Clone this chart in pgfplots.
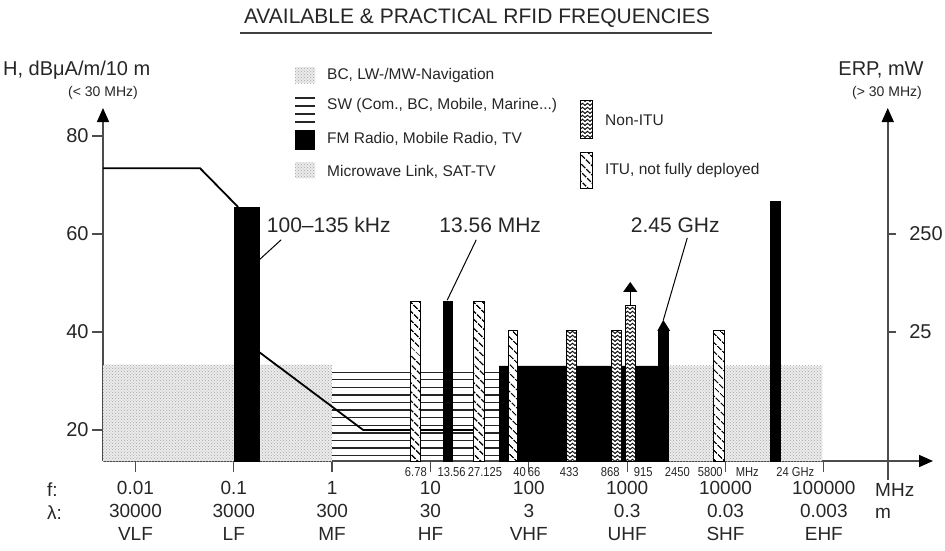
\documentclass[border=0pt]{standalone}
\usepackage{fontspec}
\setmainfont{Liberation Sans}
\newfontfamily\narrowfont{Liberation Sans}[FakeStretch=0.86]
\usepackage{pgfplots}
\pgfplotsset{compat=1.18}
\usetikzlibrary{patterns,patterns.meta,arrows.meta}

% zigzag fill for the non-ITU bands
\pgfdeclarepatternformonly{nonitu}{\pgfqpoint{-1pt}{-1pt}}{\pgfqpoint{6pt}{5pt}}{\pgfqpoint{5pt}{4pt}}{%
  \pgfsetlinewidth{0.9pt}%
  \pgfpathmoveto{\pgfqpoint{0pt}{0.5pt}}%
  \pgfpathlineto{\pgfqpoint{2.5pt}{2.8pt}}%
  \pgfpathlineto{\pgfqpoint{5pt}{0.5pt}}%
  \pgfusepath{stroke}}

\tikzset{
  dotty/.style={draw=none, fill=gray!16, postaction={pattern=crosshatch dots, pattern color=gray!70}},
  itu/.style={draw=black, line width=0.9pt, fill=white, postaction={pattern={Lines[angle=-45,distance=6.4pt,line width=1.4pt]}}},
  nonitu/.style={draw=black, line width=0.9pt, fill=white, postaction={pattern=nonitu}},
  solid bar/.style={draw=black, fill=black},
  small lab/.style={font=\narrowfont\fontsize{13}{15}\selectfont, text=black!85, inner sep=0pt},
}

\begin{document}
\begin{tikzpicture}
\useasboundingbox (-103pt,-89pt) rectangle (842pt,461pt);
\begin{axis}[
  scale only axis,
  width=830pt, height=353pt,
  xmode=log, log basis x=10,
  xmin=0.004677, xmax=1288250,
  ymin=13.67, ymax=85.7,
  clip=false,
  axis line style={draw=none},
  xtick={0.01,0.1,1,10,100,1000,10000,100000},
  xticklabels={{0.01\\30000\\VLF},{0.1\\3000\\LF},{1\\300\\MF},{10\\30\\HF},
    {100\\3\\VHF},{1000\\0.3\\UHF},{10000\\0.03\\SHF},{100000\\0.003\\EHF}},
  xticklabel style={align=center, font=\fontsize{19}{23}\selectfont, text=black!85, yshift=-6pt},
  ytick={20,40,60,80},
  yticklabel style={font=\fontsize{20}{24}\selectfont, text=black!85},
  /pgf/number format/assume math mode=true,
  tick align=outside, xtick pos=left, ytick pos=left,
  major tick length=11pt,
  tick style={gray!60!black, line width=1.3pt},
  minor tick style={draw=none},
]

% axis lines
\draw[gray!60!black, line width=1.6pt, -{Triangle[length=14pt,width=12pt,color=black]}]
  (rel axis cs:0,0) -- (rel axis cs:1,0);
\draw[gray!60!black, line width=1.6pt, -{Triangle[length=14pt,width=12pt,color=black]}]
  (rel axis cs:0,0) -- (rel axis cs:0,1);
\draw[gray!60!black, line width=1.6pt, -{Triangle[length=14pt,width=12pt,color=black]}]
  (axis cs:446684,9.8) -- (axis cs:446684,85.7);
\draw[gray!60!black, line width=1.3pt] (axis cs:446684,60) -- ++(8pt,0pt);
\draw[gray!60!black, line width=1.3pt] (axis cs:446684,40) -- ++(8pt,0pt);
\node[anchor=west, font=\fontsize{20}{24}\selectfont, text=black!85] at ([xshift=18pt]axis cs:446684,60) {250};
\node[anchor=west, font=\fontsize{20}{24}\selectfont, text=black!85] at ([xshift=18pt]axis cs:446684,40) {25};

% BC, LW-/MW-Navigation
\addplot[dotty] coordinates {(0.00468,13.67) (0.00468,33.3) (1,33.3) (1,13.67)} -- cycle;
% Microwave link, SAT-TV
\addplot[dotty] coordinates {(2619,13.67) (2619,33.1) (96600,33.1) (96600,13.67)} -- cycle;

% SW lines
\addplot[black!85, line width=1.3pt, unbounded coords=jump] table {
x y
1 31.8
50 31.8
nan nan
1 30.25
50 30.25
nan nan
1 28.7
50 28.7
nan nan
1 27.15
50 27.15
nan nan
1 25.6
50 25.6
nan nan
1 24.05
50 24.05
nan nan
1 22.5
50 22.5
nan nan
1 20.95
50 20.95
nan nan
1 19.4
50 19.4
nan nan
1 17.85
50 17.85
nan nan
1 16.3
50 16.3
nan nan
1 14.75
50 14.75
};

% H-field limit
\addplot[black, line width=1.8pt] coordinates {(0.00468,73.4) (0.0454,73.4) (0.1106,65.5)};
\addplot[black, line width=1.8pt] coordinates {(0.181,35.9) (2.07,20) (27.2,20)};

% FM radio, mobile radio, TV
\addplot[solid bar] coordinates {(50,13.67) (50,33.1) (2072,33.1) (2072,40.4) (2619,40.4) (2619,13.67)} -- cycle;
\addplot[fill=black, draw=none] coordinates {(2024,40.2) (2330,42.45) (2743,40.2)} -- cycle;
\addplot[solid bar] coordinates {(0.1007,13.67) (0.1007,65.5) (0.181,65.5) (0.181,13.67)} -- cycle;
\addplot[solid bar] coordinates {(13.5,13.67) (13.5,46.3) (16.6,46.3) (16.6,13.67)} -- cycle;
\addplot[solid bar] coordinates {(28560,13.67) (28560,66.7) (36100,66.7) (36100,13.67)} -- cycle;

% ITU, not fully deployed
\addplot[itu] coordinates {(6.21,13.67) (6.21,46.3) (7.86,46.3) (7.86,13.67)} -- cycle;
\addplot[itu] coordinates {(27.2,13.67) (27.2,46.3) (35.2,46.3) (35.2,13.67)} -- cycle;
\addplot[itu] coordinates {(61.7,13.67) (61.7,40.4) (76.2,40.4) (76.2,13.67)} -- cycle;
\addplot[itu] coordinates {(7510,13.67) (7510,40.4) (9680,40.4) (9680,13.67)} -- cycle;

% Non-ITU
\addplot[nonitu] coordinates {(240,13.67) (240,40.4) (303,40.4) (303,13.67)} -- cycle;
\addplot[nonitu] coordinates {(689,13.67) (689,40.4) (871,40.4) (871,13.67)} -- cycle;
\addplot[nonitu] coordinates {(957,13.67) (957,45.5) (1209,45.5) (1209,13.67)} -- cycle;
\addplot[black, line width=1pt] coordinates {(1075,45.5) (1075,48.2)};
\addplot[fill=black, draw=none] coordinates {(912,48.2) (1075,50.2) (1267,48.2)} -- cycle;

% callouts
\addplot[black, line width=1pt] coordinates {(0.181,54.7) (0.303,58.8)};
\addplot[black, line width=1pt] coordinates {(14.8,46.5) (29.2,58.8)};
\addplot[black, line width=1pt] coordinates {(2330,42.4) (4087,59.2)};
\node[anchor=west, font=\fontsize{21}{25}\selectfont, text=black!85] at (axis cs:0.2,61.8) {100–135 kHz};
\node[font=\fontsize{21}{25}\selectfont, text=black!85] at (axis cs:40.5,61.8) {13.56 MHz};
\node[font=\fontsize{21}{25}\selectfont, text=black!85] at (axis cs:3085,61.8) {2.45 GHz};

% small frequency labels under the axis
\node[small lab] at (axis cs:7.1,11.43) {6.78};
\node[small lab] at (axis cs:16.4,11.43) {13.56};
\node[small lab] at (axis cs:35.8,11.43) {27.125};
\node[small lab] at (axis cs:80.5,11.43) {40};
\node[small lab] at (axis cs:113,11.43) {66};
\node[small lab] at (axis cs:258,11.43) {433};
\node[small lab] at (axis cs:673,11.43) {868};
\node[small lab] at (axis cs:1459,11.43) {915};
\node[small lab] at (axis cs:3236,11.43) {2450};
\node[small lab] at (axis cs:7000,11.43) {5800};
\node[small lab] at (axis cs:16670,11.43) {MHz};
\node[small lab] at (axis cs:51300,11.43) {24 GHz};

\end{axis}

% title
\node[font=\fontsize{21}{25}\selectfont, text=black!85] at (374pt,443pt) {AVAILABLE \& PRACTICAL RFID FREQUENCIES};
\draw[black!75, line width=1.5pt] (137pt,428pt) -- (609pt,428pt);

% axis titles
\node[anchor=west, font=\fontsize{20}{24}\selectfont, text=black!85, inner sep=0pt] at (-100pt,391pt) {H, dBμA/m/10 m};
\node[font=\fontsize{14}{16}\selectfont, text=black!85] at (0pt,368pt) {(< 30 MHz)};
\node[font=\fontsize{20}{24}\selectfont, text=black!85] at (778pt,391pt) {ERP, mW};
\node[font=\fontsize{14}{16}\selectfont, text=black!85] at (784pt,368pt) {(> 30 MHz)};

% row captions
\node[anchor=west, font=\fontsize{19}{23}\selectfont, text=black!85, inner sep=0pt] at (-56pt,-29pt) {f:};
\node[anchor=west, font=\fontsize{19}{23}\selectfont, text=black!85, inner sep=0pt] at (-56pt,-52pt) {λ:};
\node[anchor=west, font=\fontsize{19}{23}\selectfont, text=black!85, inner sep=0pt] at (772pt,-29pt) {MHz};
\node[anchor=west, font=\fontsize{19}{23}\selectfont, text=black!85, inner sep=0pt] at (772pt,-52pt) {m};

% legend
\path[dotty] (192pt,378pt) rectangle (212pt,394pt);
\foreach \ly in {363,355,347,339} \draw[black!85, line width=1.3pt] (192pt,\ly pt) -- (212pt,\ly pt);
\fill[black] (192pt,311pt) rectangle (212pt,331pt);
\path[dotty] (192pt,283pt) rectangle (212pt,299pt);
\path[nonitu] (477pt,323pt) rectangle (489pt,361pt);
\path[itu] (477pt,273pt) rectangle (489pt,309pt);
\begin{scope}[every node/.style={anchor=west, font=\fontsize{15.5}{18}\selectfont, text=black!85, inner sep=0pt}]
\node at (224pt,386pt) {BC, LW-/MW-Navigation};
\node at (224pt,356pt) {SW (Com., BC, Mobile, Marine...)};
\node at (224pt,322pt) {FM Radio, Mobile Radio, TV};
\node at (224pt,289pt) {Microwave Link, SAT-TV};
\node at (502pt,341pt) {Non-ITU};
\node at (502pt,291pt) {ITU, not fully deployed};
\end{scope}
\end{tikzpicture}
\end{document}
